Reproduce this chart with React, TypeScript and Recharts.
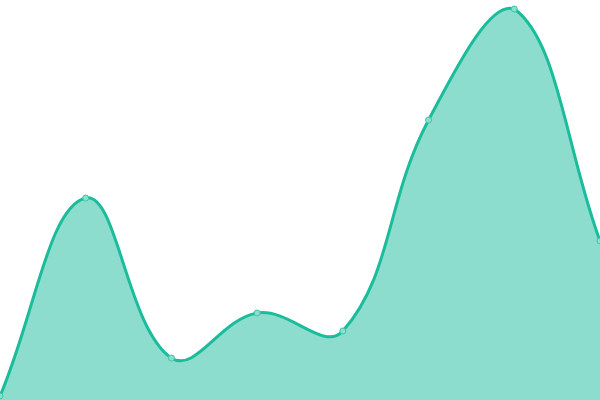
import React from 'react';
import { AreaChart, Area, XAxis, YAxis } from 'recharts';

const WIDTH = 600;
const HEIGHT = 400;
const TENSION = 0.4;

const categories = ['A', 'B', 'C', 'D', 'E', 'F', 'G', 'H'];
const values = [4, 202, 42, 87, 69, 280, 391, 159];

const chartData = categories.map((name, i) => ({ name, value: values[i] }));

const clamp = (v: number, lo: number, hi: number) => Math.max(lo, Math.min(hi, v));

// spline with distance-weighted control points, capped to the plot area
function splineCurve(context: any): any {
    let pts: number[][] = [];
    let line = NaN;
    return {
        areaStart() { line = 0; },
        areaEnd() { line = NaN; },
        lineStart() { pts = []; },
        point(x: any, y: any) { pts.push([+x, +y]); },
        lineEnd() {
            const n = pts.length;
            if (n) {
                if (line) context.lineTo(pts[0][0], pts[0][1]);
                else context.moveTo(pts[0][0], pts[0][1]);
                if (n === 2) {
                    context.lineTo(pts[1][0], pts[1][1]);
                } else if (n > 2) {
                    const cps = pts.map((cur, i) => {
                        const prev = pts[Math.max(i - 1, 0)];
                        const next = pts[Math.min(i + 1, n - 1)];
                        const d01 = Math.hypot(cur[0] - prev[0], cur[1] - prev[1]);
                        const d12 = Math.hypot(next[0] - cur[0], next[1] - cur[1]);
                        let s01 = d01 / (d01 + d12);
                        let s12 = d12 / (d01 + d12);
                        if (isNaN(s01)) s01 = 0;
                        if (isNaN(s12)) s12 = 0;
                        const fa = TENSION * s01;
                        const fb = TENSION * s12;
                        return {
                            px: clamp(cur[0] - fa * (next[0] - prev[0]), 0, WIDTH),
                            py: clamp(cur[1] - fa * (next[1] - prev[1]), 0, HEIGHT),
                            nx: clamp(cur[0] + fb * (next[0] - prev[0]), 0, WIDTH),
                            ny: clamp(cur[1] + fb * (next[1] - prev[1]), 0, HEIGHT),
                        };
                    });
                    for (let i = 1; i < n; i++) {
                        context.bezierCurveTo(cps[i - 1].nx, cps[i - 1].ny, cps[i].px, cps[i].py, pts[i][0], pts[i][1]);
                    }
                }
            }
            if (line || (line !== 0 && n === 1)) context.closePath();
            line = 1 - line;
        },
    };
}

const App: React.FC = () => {
    return (
        <div style={{ position: 'absolute', top: 0, left: 0, width: WIDTH, height: HEIGHT }}>
            <AreaChart width={WIDTH} height={HEIGHT} data={chartData} margin={{ top: 0, right: 0, bottom: 0, left: 0 }}>
                <XAxis dataKey="name" hide />
                <YAxis hide domain={[0, 400]} />
                <Area
                    type={splineCurve as any}
                    dataKey="value"
                    stroke="#1abc9c"
                    strokeWidth={3}
                    fill="#1abc9c"
                    fillOpacity={0.5}
                    dot={{ r: 3, fill: '#8cdecd', stroke: '#3cc8a8', strokeWidth: 1, fillOpacity: 1 }}
                    activeDot={false}
                    isAnimationActive={false}
                />
            </AreaChart>
        </div>
    );
};

export default App;
